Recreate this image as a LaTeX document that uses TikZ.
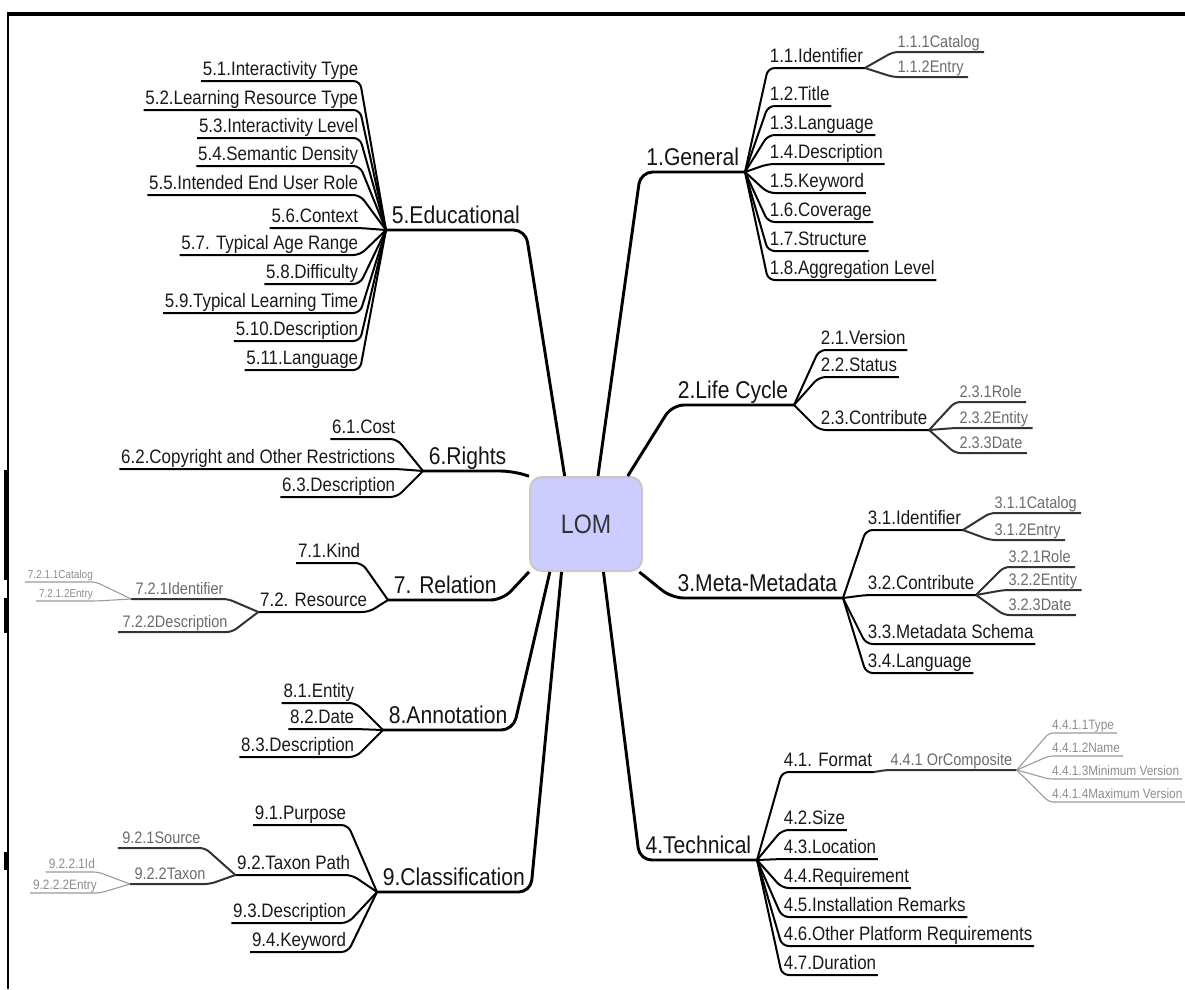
\documentclass[tikz,border=0pt]{standalone}
\usepackage{fontspec}
\setmainfont{Liberation Sans}[FakeStretch=0.87]

\tikzset{every picture/.style={line width=0.75pt}}
\tikzset{
  topic/.style={inner xsep=4pt, inner ysep=0.5pt, text depth=3.8pt, font=\fontsize{18.2}{21}\selectfont, text=black!92},
  rtopic/.style={topic, anchor=south east},
  ltopic/.style={topic, anchor=south west},
  sub/.style={inner xsep=1pt, inner ysep=0.5pt, text depth=3.1pt, font=\fontsize{14.6}{17}\selectfont, text=black!90},
  rsub/.style={sub, anchor=south west},
  lsub/.style={sub, anchor=south east},
  leaf/.style={inner xsep=3pt, inner ysep=0.5pt, text depth=2.6pt, font=\fontsize{12.5}{15}\selectfont, text=black!58},
  rleaf/.style={leaf, anchor=south west},
  lleaf/.style={leaf, anchor=south east},
  twig/.style={inner xsep=2pt, inner ysep=0.5pt, text depth=2pt, font=\fontsize{10.2}{12}\selectfont, text=black!45},
  rtwig/.style={twig, anchor=south west},
  ltwig/.style={twig, anchor=south east},
  mainline/.style={line width=2.2pt, rounded corners=9pt},
  subline/.style={line width=1.5pt, rounded corners=5pt},
  leafline/.style={line width=1.5pt, draw=black!80, rounded corners=4pt},
  twigline/.style={line width=0.8pt, draw=black!40, rounded corners=3pt},
}

\begin{document}
\begin{tikzpicture}[x=0.75pt,y=0.75pt,yscale=-1,xscale=1]
    \useasboundingbox (0,0) rectangle (1185,989);
    %Frame
    \draw[line width=3.6pt] (7,14) -- (1185,14) ;
    \draw[line width=1.8pt] (8,13) -- (8,989) ;
    \draw[line width=3pt] (6,470) -- (6,580) (6,598) -- (6,633) (6,852) -- (6,870) ;

    % Centre
    \node[draw={rgb, 255:red, 200; green, 200; blue, 200}, fill={rgb, 255:red, 204; green, 204; blue, 255}, line width=1.5pt, rounded corners=9pt, minimum width=84pt, minimum height=70.5pt, font=\fontsize{20}{24}\selectfont, text=black!80] (lom) at (586,524) {LOM};

    % Topics
    \node[rtopic] (gen) at (745,172) {1.General};
    \node[rtopic] (lif) at (794,405) {2.Life Cycle};
    \node[rtopic] (met) at (843,598) {3.Meta-Metadata};
    \node[rtopic] (tec) at (757,860) {4.Technical};
    \node[ltopic] (edu) at (386,230) {5.Educational};
    \node[ltopic] (rig) at (423,471) {6.Rights};
    \node[ltopic] (rel) at (388,600) {7. Relation};
    \node[ltopic] (ann) at (383,730) {8.Annotation};
    \node[ltopic] (cls) at (377,892) {9.Classification};

    \draw[mainline] (lom.76) -- (gen.south west) -- (gen.south east) ;
    \draw[mainline] (lom.49) -- (lif.south west) -- (lif.south east) ;
    \draw[mainline] (lom.318) -- (met.south west) -- (met.south east) ;
    \draw[mainline] (lom.290) -- (tec.south west) -- (tec.south east) ;
    \draw[mainline] (lom.114) -- (edu.south east) -- (edu.south west) ;
    \draw[mainline] (lom.140) -- (rig.south east) -- (rig.south west) ;
    \draw[mainline] (lom.220) -- (rel.south east) -- (rel.south west) ;
    \draw[mainline] (lom.233) -- (ann.south east) -- (ann.south west) ;
    \draw[mainline] (lom.243) -- (cls.south east) -- (cls.south west) ;

    % 1.General
    \node[rsub] (g11) at (768,68) {1.1.Identifier};
    \node[rsub] (g12) at (768,106) {1.2.Title};
    \node[rsub] (g13) at (768,135) {1.3.Language};
    \node[rsub] (g14) at (768,164) {1.4.Description};
    \node[rsub] (g15) at (768,193) {1.5.Keyword};
    \node[rsub] (g16) at (768,222) {1.6.Coverage};
    \node[rsub] (g17) at (768,251) {1.7.Structure};
    \node[rsub] (g18) at (768,280) {1.8.Aggregation Level};
    \foreach \c in {g11,g12,g13,g14,g15,g16,g17,g18}
      \draw[subline] (gen.south east) -- (\c.south west) -- (\c.south east) ;
    \node[rleaf] (g111) at (893,52) {1.1.1Catalog};
    \node[rleaf] (g112) at (893,77) {1.1.2Entry};
    \foreach \c in {g111,g112}
      \draw[leafline] (g11.south east) -- (\c.south west) -- (\c.south east) ;

    % 2.Life Cycle
    \node[rsub] (l21) at (819,350) {2.1.Version};
    \node[rsub] (l22) at (819,377) {2.2.Status};
    \node[rsub] (l23) at (819,430) {2.3.Contribute};
    \foreach \c in {l21,l22,l23}
      \draw[subline] (lif.south east) -- (\c.south west) -- (\c.south east) ;
    \node[rleaf] (l231) at (955,402) {2.3.1Role};
    \node[rleaf] (l232) at (955,428) {2.3.2Entity};
    \node[rleaf] (l233) at (955,453) {2.3.3Date};
    \foreach \c in {l231,l232,l233}
      \draw[leafline] (l23.south east) -- (\c.south west) -- (\c.south east) ;

    % 3.Meta-Metadata
    \node[rsub] (m31) at (866,530) {3.1.Identifier};
    \node[rsub] (m32) at (866,595) {3.2.Contribute};
    \node[rsub] (m33) at (866,644) {3.3.Metadata Schema};
    \node[rsub] (m34) at (866,673) {3.4.Language};
    \foreach \c in {m31,m32,m33,m34}
      \draw[subline] (met.south east) -- (\c.south west) -- (\c.south east) ;
    \node[rleaf] (m311) at (990,513) {3.1.1Catalog};
    \node[rleaf] (m312) at (990,540) {3.1.2Entry};
    \foreach \c in {m311,m312}
      \draw[leafline] (m31.south east) -- (\c.south west) -- (\c.south east) ;
    \node[rleaf] (m321) at (1004,567) {3.2.1Role};
    \node[rleaf] (m322) at (1004,590) {3.2.2Entity};
    \node[rleaf] (m323) at (1004,615) {3.2.3Date};
    \foreach \c in {m321,m322,m323}
      \draw[leafline] (m32.south east) -- (\c.south west) -- (\c.south east) ;

    % 4.Technical
    \node[rsub] (t41) at (782,772) {4.1. Format};
    \node[rsub] (t42) at (782,830) {4.2.Size};
    \node[rsub] (t43) at (782,859) {4.3.Location};
    \node[rsub] (t44) at (782,888) {4.4.Requirement};
    \node[rsub] (t45) at (782,917) {4.5.Installation Remarks};
    \node[rsub] (t46) at (782,946) {4.6.Other Platform Requirements};
    \node[rsub] (t47) at (782,975) {4.7.Duration};
    \foreach \c in {t41,t42,t43,t44,t45,t46,t47}
      \draw[subline] (tec.south east) -- (\c.south west) -- (\c.south east) ;
    \node[rleaf] (orc) at (886,770) {4.4.1 OrComposite};
    \draw[leafline] (t41.south east) -- (orc.south west) -- (orc.south east) ;
    \node[rtwig] (t4411) at (1049,733) {4.4.1.1Type};
    \node[rtwig] (t4412) at (1049,756) {4.4.1.2Name};
    \node[rtwig] (t4413) at (1049,779) {4.4.1.3Minimum Version};
    \node[rtwig] (t4414) at (1049,802) {4.4.1.4Maximum Version};
    \foreach \c in {t4411,t4412,t4413,t4414}
      \draw[twigline] (orc.south east) -- (\c.south west) -- (\c.south east) ;

    % 5.Educational
    \node[lsub] (e51) at (360,81) {5.1.Interactivity Type};
    \node[lsub] (e52) at (360,110) {5.2.Learning Resource Type};
    \node[lsub] (e53) at (360,138) {5.3.Interactivity Level};
    \node[lsub] (e54) at (360,166) {5.4.Semantic Density};
    \node[lsub] (e55) at (360,195) {5.5.Intended End User Role};
    \node[lsub] (e56) at (360,228) {5.6.Context};
    \node[lsub] (e57) at (360,255) {5.7. Typical Age Range};
    \node[lsub] (e58) at (360,284) {5.8.Difficulty};
    \node[lsub] (e59) at (360,313) {5.9.Typical Learning Time};
    \node[lsub] (e510) at (360,341) {5.10.Description};
    \node[lsub] (e511) at (360,370) {5.11.Language};
    \foreach \c in {e51,e52,e53,e54,e55,e56,e57,e58,e59,e510,e511}
      \draw[subline] (edu.south west) -- (\c.south east) -- (\c.south west) ;

    % 6.Rights
    \node[lsub] (r61) at (397,439) {6.1.Cost};
    \node[lsub] (r62) at (397,469) {6.2.Copyright and Other Restrictions};
    \node[lsub] (r63) at (397,497) {6.3.Description};
    \foreach \c in {r61,r62,r63}
      \draw[subline] (rig.south west) -- (\c.south east) -- (\c.south west) ;

    % 7.Relation
    \node[lsub] (r71) at (362,563) {7.1.Kind};
    \node[lsub] (r72) at (369,612) {7.2. Resource};
    \foreach \c in {r71,r72}
      \draw[subline] (rel.south west) -- (\c.south east) -- (\c.south west) ;
    \node[lleaf] (r721) at (228,599) {7.2.1Identifier};
    \node[lleaf] (r722) at (232,632) {7.2.2Description};
    \foreach \c in {r721,r722}
      \draw[leafline] (r72.south west) -- (\c.south east) -- (\c.south west) ;
    \node[ltwig, font=\fontsize{8.6}{10}\selectfont] (r7211) at (96,582) {7.2.1.1Catalog};
    \node[ltwig, font=\fontsize{8.6}{10}\selectfont] (r7212) at (96,601) {7.2.1.2Entry};
    \foreach \c in {r7211,r7212}
      \draw[twigline] (r721.south west) -- (\c.south east) -- (\c.south west) ;

    % 8.Annotation
    \node[lsub] (a81) at (356,703) {8.1.Entity};
    \node[lsub] (a82) at (356,729) {8.2.Date};
    \node[lsub] (a83) at (356,757) {8.3.Description};
    \foreach \c in {a81,a82,a83}
      \draw[subline] (ann.south west) -- (\c.south east) -- (\c.south west) ;

    % 9.Classification
    \node[lsub] (c91) at (348,825) {9.1.Purpose};
    \node[lsub] (c92) at (352,875) {9.2.Taxon Path};
    \node[lsub] (c93) at (348,923) {9.3.Description};
    \node[lsub] (c94) at (348,952) {9.4.Keyword};
    \foreach \c in {c91,c92,c93,c94}
      \draw[subline] (cls.south west) -- (\c.south east) -- (\c.south west) ;
    \node[lleaf] (c921) at (205,848) {9.2.1Source};
    \node[lleaf] (c922) at (210,884) {9.2.2Taxon};
    \foreach \c in {c921,c922}
      \draw[leafline] (c92.south west) -- (\c.south east) -- (\c.south west) ;
    \node[ltwig] (c9221) at (98,872) {9.2.2.1Id};
    \node[ltwig] (c9222) at (100,893) {9.2.2.2Entry};
    \foreach \c in {c9221,c9222}
      \draw[twigline] (c922.south west) -- (\c.south east) -- (\c.south west) ;
\end{tikzpicture}
\end{document}
